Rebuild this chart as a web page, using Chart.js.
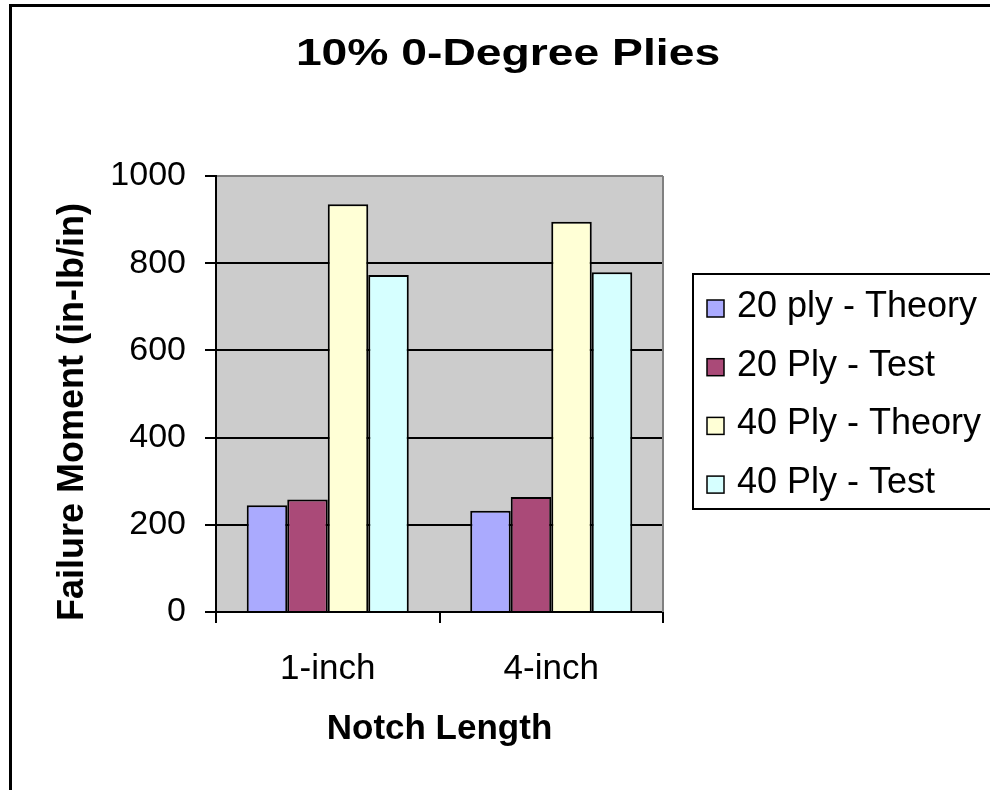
<!DOCTYPE html>
<html>
<head>
<meta charset="utf-8">
<script src="https://cdn.jsdelivr.net/npm/chart.js@4.4.0/dist/chart.umd.min.js"></script>
<style>
  html, body { margin: 0; padding: 0; background: #fff; }
  canvas { display: block; }
</style>
</head>
<body>
<canvas id="chart" width="990" height="790"></canvas>
<script>
// data
const categories = ['1-inch', '4-inch'];
const seriesNames = ['20 ply - Theory', '20 Ply - Test', '40 Ply - Theory', '40 Ply - Test'];
const theory20 = [245, 232];
const test20 = [258, 264];
const theory40 = [935, 895];
const test40 = [773, 779];
const seriesColors = ['#AAAAFE', '#AA4A78', '#FFFFD6', '#D6FFFF'];

const chartTitle = '10% 0-Degree Plies';
const yTitle = 'Failure Moment (in-lb/in)';
const xTitle = 'Notch Length';

const FONT = "'Liberation Sans', Arial, sans-serif";
Chart.defaults.font.family = FONT;
Chart.defaults.color = '#000';

// frame, plot background, title, rotated axis title and legend box
const excelLook = {
  id: 'excelLook',
  beforeDraw(chart) {
    const { ctx, chartArea: a } = chart;
    ctx.save();
    ctx.fillStyle = '#fff';
    ctx.fillRect(0, 0, chart.width, chart.height);
    ctx.fillStyle = '#000';
    ctx.fillRect(9, 4, chart.width - 9, 3);
    ctx.fillRect(9, 4, 3, chart.height - 4);
    ctx.fillStyle = '#cccccc';
    ctx.fillRect(a.left, a.top, a.right - a.left, a.bottom - a.top);
    ctx.restore();
  },
  beforeDatasetsDraw(chart) {
    const { ctx, chartArea: a } = chart;
    ctx.save();
    ctx.strokeStyle = '#808080';
    ctx.lineWidth = 2;
    ctx.beginPath();
    ctx.moveTo(a.right, a.top);
    ctx.lineTo(a.right, a.bottom);
    ctx.stroke();
    ctx.restore();
  },
  afterDraw(chart) {
    const { ctx } = chart;
    ctx.save();
    ctx.fillStyle = '#000';

    // chart title (stretched wide like the original)
    ctx.font = 'bold 37px ' + FONT;
    ctx.textAlign = 'center';
    ctx.textBaseline = 'alphabetic';
    ctx.save();
    ctx.translate(508, 65);
    ctx.scale(1.25, 1);
    ctx.fillText(chartTitle, 0, 0);
    ctx.restore();

    // y axis title
    ctx.save();
    ctx.font = 'bold 36px ' + FONT;
    ctx.translate(83, 412);
    ctx.rotate(-Math.PI / 2);
    ctx.fillText(yTitle, 0, 0);
    ctx.restore();

    // legend
    ctx.lineWidth = 2;
    ctx.strokeStyle = '#000';
    ctx.strokeRect(693, 274, 320, 235);
    ctx.font = '36px ' + FONT;
    ctx.textAlign = 'left';
    chart.data.datasets.forEach((ds, i) => {
      const y = 300 + i * 58.7;
      ctx.fillStyle = ds.backgroundColor;
      ctx.fillRect(707, y, 17, 17);
      ctx.lineWidth = 1.5;
      ctx.strokeRect(707, y, 17, 17);
      ctx.fillStyle = '#000';
      ctx.fillText(ds.label, 737, y + 17);
    });
    ctx.restore();
  }
};

const allSeries = [theory20, test20, theory40, test40];

new Chart(document.getElementById('chart'), {
  type: 'bar',
  data: {
    labels: categories,
    datasets: allSeries.map((vals, i) => ({
      label: seriesNames[i],
      data: vals,
      backgroundColor: seriesColors[i],
      borderColor: '#000',
      borderWidth: 2,
      borderSkipped: 'start',
      categoryPercentage: 0.725,
      barPercentage: 1
    }))
  },
  options: {
    responsive: false,
    animation: false,
    devicePixelRatio: 1,
    layout: { padding: { left: 0, right: 327, top: 176, bottom: 0 } },
    plugins: {
      legend: { display: false },
      title: { display: false },
      tooltip: { enabled: false }
    },
    scales: {
      x: {
        afterFit(scale) { scale.height = 178; },
        grid: {
          offset: true,
          drawOnChartArea: false,
          drawTicks: true,
          tickLength: 11,
          tickColor: '#000',
          lineWidth: 2
        },
        border: { display: true, color: '#000', width: 2 },
        ticks: { font: { size: 35 }, color: '#000', padding: 25, maxRotation: 0 },
        title: {
          display: true,
          text: xTitle,
          font: { size: 35, weight: 'bold' },
          color: '#000',
          padding: { top: 0, bottom: 40 }
        }
      },
      y: {
        min: 0,
        max: 1000,
        afterFit(scale) { scale.width = 216; },
        ticks: {
          stepSize: 200,
          font: { size: 34 },
          color: '#000',
          padding: 19,
          callback: v => String(v)
        },
        grid: {
          color: c => (c.tick && c.tick.value === 1000 ? '#808080' : '#000'),
          lineWidth: 2,
          tickLength: 11,
          tickColor: '#000'
        },
        border: { display: true, color: '#000', width: 2 }
      }
    }
  },
  plugins: [excelLook]
});
</script>
</body>
</html>
